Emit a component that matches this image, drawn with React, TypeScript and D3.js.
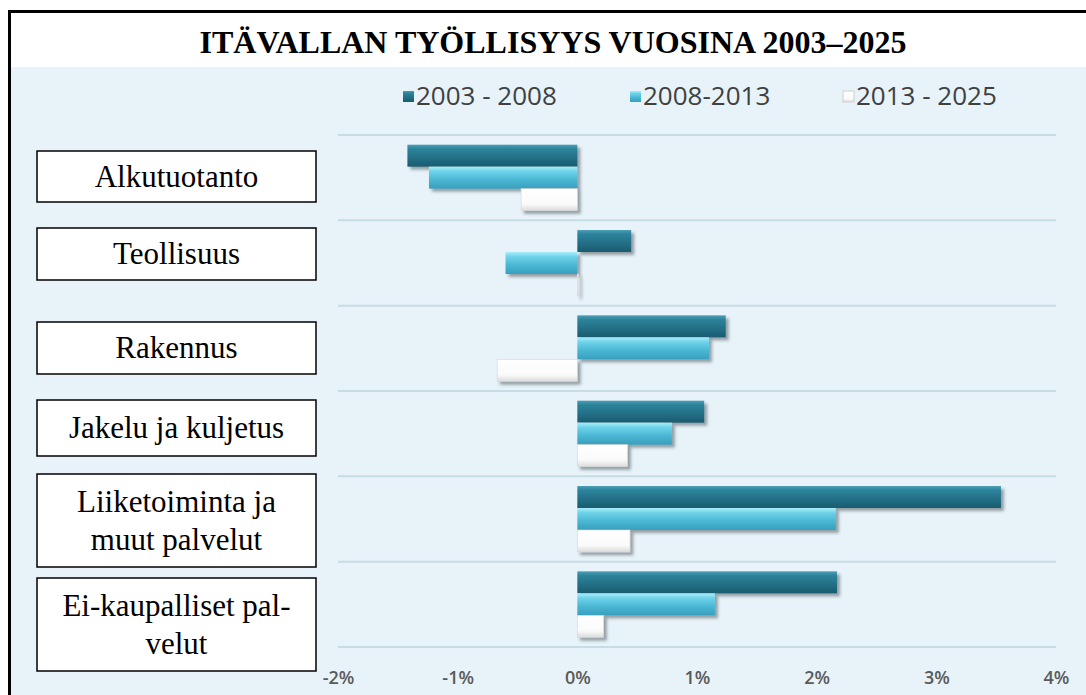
import React, { useEffect, useRef } from 'react';
import * as d3 from 'd3';

// categories (top to bottom) and the text shown in the label boxes
const categories = [
  'Alkutuotanto',
  'Teollisuus',
  'Rakennus',
  'Jakelu ja kuljetus',
  'Liiketoiminta ja muut palvelut',
  'Ei-kaupalliset palvelut',
];
const labelLines = [
  ['Alkutuotanto'],
  ['Teollisuus'],
  ['Rakennus'],
  ['Jakelu ja kuljetus'],
  ['Liiketoiminta ja', 'muut palvelut'],
  ['Ei-kaupalliset pal-', 'velut'],
];

const seriesNames = ['2003 - 2008', '2008-2013', '2013 - 2025'];
const values2003to2008 = [-1.42, 0.45, 1.24, 1.06, 3.54, 2.17];
const values2008to2013 = [-1.24, -0.6, 1.1, 0.79, 2.16, 1.15];
const values2013to2025 = [-0.47, 0.01, -0.67, 0.42, 0.44, 0.22];

const xTicks = [-2, -1, 0, 1, 2, 3, 4];

const W = 1086;
const H = 695;

// label boxes sit a little off the bands in the original
const boxLayout = [
  { top: 151, height: 51 },
  { top: 228, height: 52 },
  { top: 322, height: 52 },
  { top: 400, height: 56 },
  { top: 474, height: 93 },
  { top: 578, height: 93 },
];

const gradientStops = [
  [
    ['0', '#4d9fb6'],
    ['0.18', '#2d849b'],
    ['0.6', '#236f86'],
    ['1', '#1a5b6f'],
  ],
  [
    ['0', '#a8eefa'],
    ['0.22', '#6ed2ea'],
    ['0.6', '#49b7d3'],
    ['1', '#389fbd'],
  ],
  [
    ['0', '#ffffff'],
    ['0.7', '#fafafa'],
    ['1', '#dcdcdc'],
  ],
];

const Chart = () => {
  const ref = useRef<SVGSVGElement>(null);

  useEffect(() => {
    if (!ref.current) return;
    const svg = d3.select(ref.current);
    svg.selectAll('*').remove();

    const series = [values2003to2008, values2008to2013, values2013to2025];

    const defs = svg.append('defs');
    gradientStops.forEach((stops, i) => {
      const g = defs
        .append('linearGradient')
        .attr('id', `bar-grad-${i}`)
        .attr('x1', 0)
        .attr('y1', 0)
        .attr('x2', 0)
        .attr('y2', 1);
      stops.forEach(([o, c]) => g.append('stop').attr('offset', o).attr('stop-color', c));
    });
    defs
      .append('filter')
      .attr('id', 'bar-shadow')
      .attr('x', '-10%')
      .attr('y', '-30%')
      .attr('width', '130%')
      .attr('height', '180%')
      .append('feDropShadow')
      .attr('dx', 3)
      .attr('dy', 3)
      .attr('stdDeviation', 1.6)
      .attr('flood-color', '#2a3b42')
      .attr('flood-opacity', 0.45);

    // frame: white title strip, light blue plot area, black border top/left
    svg.append('rect').attr('width', W).attr('height', H).attr('fill', '#ffffff');
    svg
      .append('rect')
      .attr('x', 11)
      .attr('y', 67)
      .attr('width', W - 11)
      .attr('height', H - 67)
      .attr('fill', '#e8f3f9');
    svg
      .append('path')
      .attr('d', `M9.5,${H} V11.5 H${W}`)
      .attr('fill', 'none')
      .attr('stroke', '#000')
      .attr('stroke-width', 3);

    svg
      .append('text')
      .attr('x', 553)
      .attr('y', 53)
      .attr('text-anchor', 'middle')
      .attr('font-family', '"Liberation Serif", "Times New Roman", serif')
      .attr('font-weight', 'bold')
      .attr('font-size', 32)
      .attr('fill', '#000')
      .text('ITÄVALLAN TYÖLLISYYS VUOSINA 2003–2025');

    const x = d3.scaleLinear().domain([-2, 4]).range([338, 1056]);
    const y = d3.scaleBand().domain(categories).range([135, 647]);
    const ys = d3
      .scaleBand()
      .domain(seriesNames)
      .range([0, y.bandwidth()])
      .paddingInner(0)
      .paddingOuter(0.44);

    // horizontal separators between categories
    const gridYs = categories.map((c) => y(c) as number).concat([647]);
    svg
      .append('g')
      .selectAll('line')
      .data(gridYs)
      .join('line')
      .attr('x1', x(-2))
      .attr('x2', x(4))
      .attr('y1', (d) => d)
      .attr('y2', (d) => d)
      .attr('stroke', '#c6dde6')
      .attr('stroke-width', 2);

    // bars
    series.forEach((vals, si) => {
      svg
        .append('g')
        .attr('filter', 'url(#bar-shadow)')
        .selectAll('rect')
        .data(vals)
        .join('rect')
        .attr('x', (d) => x(Math.min(0, d)))
        .attr('width', (d) => Math.max(1, Math.abs(x(d) - x(0))))
        .attr('y', (d, i) => (y(categories[i]) as number) + (ys(seriesNames[si]) as number))
        .attr('height', ys.bandwidth())
        .attr('fill', `url(#bar-grad-${si})`)
        .attr('stroke', si === 2 ? '#d4d4d4' : 'none')
        .attr('stroke-width', 0.6);
    });

    // x axis labels
    const axis = svg
      .append('g')
      .attr('transform', 'translate(0, 647)')
      .call(
        d3
          .axisBottom(x)
          .tickValues(xTicks)
          .tickFormat((d) => `${d}%`)
          .tickSize(0)
          .tickPadding(24)
      );
    axis.select('.domain').remove();
    axis
      .selectAll('text')
      .attr('font-family', '"Open Sans", sans-serif')
      .attr('font-weight', 600)
      .attr('font-size', 18)
      .attr('fill', '#5a5a5a');

    // legend
    const legendX = [403, 630, 843];
    const legend = svg
      .append('g')
      .selectAll('g')
      .data(seriesNames)
      .join('g')
      .attr('transform', (d, i) => `translate(${legendX[i]}, 96)`);
    legend
      .append('rect')
      .attr('x', 0)
      .attr('y', -5)
      .attr('width', 11)
      .attr('height', 11)
      .attr('fill', (d, i) => `url(#bar-grad-${i})`)
      .attr('stroke', (d, i) => (i === 2 ? '#cfcfcf' : 'none'));
    legend
      .append('text')
      .attr('x', 13)
      .attr('y', 0)
      .attr('dy', '0.35em')
      .attr('font-family', '"Open Sans", sans-serif')
      .attr('font-size', 26)
      .attr('fill', '#404040')
      .text((d) => d);

    // category label boxes
    const boxes = svg
      .append('g')
      .selectAll('g')
      .data(labelLines)
      .join('g');
    boxes
      .append('rect')
      .attr('x', 37)
      .attr('y', (d, i) => boxLayout[i].top)
      .attr('width', 279)
      .attr('height', (d, i) => boxLayout[i].height)
      .attr('fill', '#fff')
      .attr('stroke', '#000')
      .attr('stroke-width', 1.5);
    boxes.each(function (lines, i) {
      const cy = boxLayout[i].top + boxLayout[i].height / 2;
      const lh = 38;
      const y0 = cy - ((lines.length - 1) * lh) / 2;
      d3.select(this)
        .selectAll('text')
        .data(lines)
        .join('text')
        .attr('x', 176.5)
        .attr('y', (d, j) => y0 + j * lh)
        .attr('dy', '0.33em')
        .attr('text-anchor', 'middle')
        .attr('font-family', '"Liberation Serif", "Times New Roman", serif')
        .attr('font-size', 31)
        .attr('fill', '#000')
        .text((d) => d);
    });
  }, []);

  return (
    <svg
      ref={ref}
      width={W}
      height={H}
      style={{ position: 'absolute', left: 0, top: 0, display: 'block' }}
    />
  );
};

export default function App() {
  return <Chart />;
}
